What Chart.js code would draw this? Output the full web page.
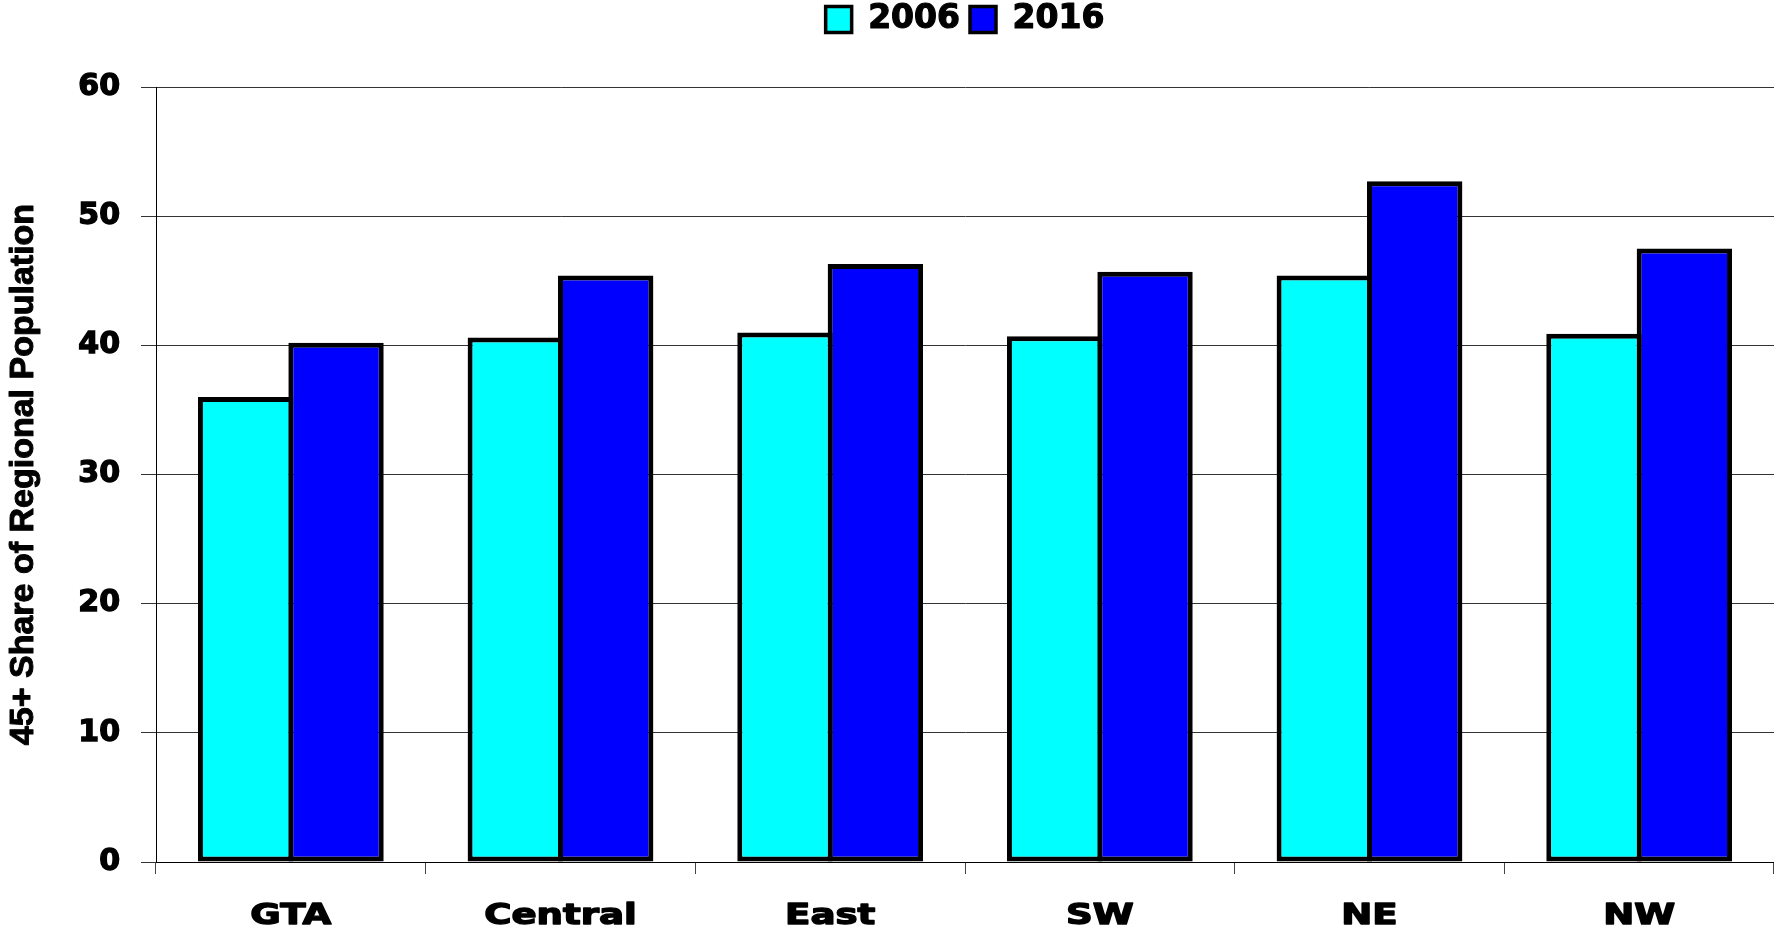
<!DOCTYPE html>
<html><head><meta charset="utf-8">
<script src="https://cdn.jsdelivr.net/npm/chart.js@4/dist/chart.umd.min.js"></script>
<style>html,body{margin:0;padding:0;background:#fff;}</style>
</head><body>
<canvas id="c" width="1774" height="930"></canvas>
<script>
const categories = ['GTA', 'Central', 'East', 'SW', 'NE', 'NW'];
const seriesNames = ['2006', '2016'];
const values2006 = [36.0, 40.6, 41.0, 40.7, 45.4, 40.9];
const values2016 = [40.2, 45.4, 46.3, 45.7, 52.7, 47.5];
const yTicks = [0, 10, 20, 30, 40, 50, 60];
const yTitle = '45+ Share of Regional Population';

const LEGEND_GAP = 41;
const TITLE_SIZE = 34;
const legendGap = {
  id: 'legendGap',
  beforeLayout(chart) {
    const lg = chart.legend;
    if (lg && !lg._gapPatched) {
      const fit = lg.fit;
      lg.fit = function () { fit.call(this); this.height += LEGEND_GAP; };
      lg._gapPatched = true;
    }
  }
};

const heavyText = {
  id: 'heavyText',
  afterDraw(chart) {
    const ctx = chart.ctx;
    const xs = chart.scales.x;
    const ys = chart.scales.y;
    // x category labels, horizontally stretched
    ctx.save();
    ctx.font = 'bold 29px "DejaVu Sans"';
    ctx.fillStyle = '#000';
    ctx.strokeStyle = '#000';
    ctx.lineWidth = 1.4;
    ctx.lineJoin = 'round';
    ctx.textAlign = 'center';
    ctx.textBaseline = 'alphabetic';
    chart.data.labels.forEach((lab, i) => {
      const x = xs.getPixelForValue(i);
      ctx.save();
      ctx.translate(x, xs.top + 62);
      ctx.scale(1.28, 1);
      ctx.fillText(lab, 0, 0);
      ctx.strokeText(lab, 0, 0);
      ctx.restore();
    });
    ctx.restore();

    // thicken legend text
    const lg = chart.legend;
    if (lg && lg.legendHitBoxes) {
      const lo = lg.options.labels;
      const fs = lo.font.size;
      ctx.save();
      ctx.font = 'bold ' + fs + 'px "DejaVu Sans"';
      ctx.strokeStyle = '#000';
      ctx.lineWidth = 1.2;
      ctx.lineJoin = 'round';
      ctx.textAlign = 'left';
      ctx.textBaseline = 'middle';
      lg.legendItems.forEach((it, i) => {
        const hb = lg.legendHitBoxes[i];
        const itemH = Math.max(fs, lo.boxHeight);
        ctx.strokeText(it.text, hb.left + lo.boxWidth + fs / 2, hb.top + itemH / 2);
      });
      ctx.restore();
    }

    // thicken y title
    ctx.save();
    ctx.font = 'bold ' + TITLE_SIZE + 'px "Liberation Sans"';
    ctx.strokeStyle = '#000';
    ctx.lineWidth = 1.0;
    ctx.lineJoin = 'round';
    ctx.textAlign = 'center';
    ctx.textBaseline = 'middle';
    ctx.translate(ys.left + 3 + TITLE_SIZE * 1.2 / 2, (ys.top + ys.bottom) / 2);
    ctx.rotate(-Math.PI / 2);
    ctx.strokeText(yTitle, 0, 0);
    ctx.restore();
  }
};

new Chart(document.getElementById('c'), {
  type: 'bar',
  data: {
    labels: categories,
    datasets: [
      { label: seriesNames[0], data: values2006, backgroundColor: '#00FFFF', borderColor: '#000', borderWidth: 5, borderSkipped: false },
      { label: seriesNames[1], data: values2016, backgroundColor: '#0000FF', borderColor: '#000', borderWidth: 5, borderSkipped: false }
    ]
  },
  options: {
    responsive: false,
    animation: false,
    devicePixelRatio: 1,
    layout: { padding: { top: -7, left: 0, right: 0, bottom: 0 } },
    datasets: { bar: { categoryPercentage: 0.6704, barPercentage: 1.0552 } },
    plugins: {
      tooltip: { enabled: false },
      legend: {
        position: 'top',
        align: 'center',
        fullSize: false,
        labels: {
          font: { family: '"DejaVu Sans"', weight: 'bold', size: 33 },
          color: '#000',
          boxWidth: 26,
          boxHeight: 26,
          padding: 10,
          generateLabels(chart) {
            const items = Chart.defaults.plugins.legend.labels.generateLabels(chart);
            items.forEach(it => { it.lineWidth = 3.5; });
            return items;
          }
        }
      }
    },
    scales: {
      x: {
        offset: true,
        grid: { display: true, drawOnChartArea: false, drawTicks: true, tickLength: 12, tickColor: '#444', offset: true },
        border: { display: true, color: '#000', width: 1 },
        ticks: { font: { family: '"DejaVu Sans"', weight: 'bold', size: 29 }, color: 'rgba(0,0,0,0)', maxRotation: 0 },
        afterFit(s) { s.height = 68; }
      },
      y: {
        min: 0,
        max: 60,
        afterBuildTicks(s) { s.ticks = yTicks.map(v => ({ value: v })); },
        grid: {
          color: ctx => (ctx.tick && ctx.tick.value === 0 ? '#000' : '#333'),
          lineWidth: 1,
          drawTicks: true,
          tickLength: 15,
          tickColor: '#333'
        },
        border: { display: true, color: '#000', width: 1 },
        ticks: {
          font: { family: '"DejaVu Sans"', weight: 'bold', size: 30 },
          color: '#000',
          textStrokeColor: '#000',
          textStrokeWidth: 1.4,
          padding: 21
        },
        title: {
          display: true,
          text: yTitle,
          font: { family: '"Liberation Sans"', weight: 'bold', size: TITLE_SIZE },
          color: '#000',
          padding: { top: 3, bottom: 0 }
        },
        afterFit(s) { s.width = 156; }
      }
    }
  },
  plugins: [legendGap, heavyText]
});
</script>
</body></html>
